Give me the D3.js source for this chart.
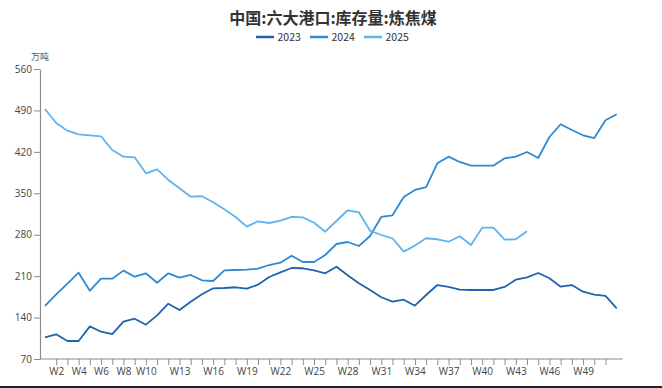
<!DOCTYPE html>
<html>
<head>
<meta charset="utf-8">
<script src="https://cdn.jsdelivr.net/npm/d3@7"></script>
<style>
  body { margin: 0; background: #fff; }
  svg { display: block; font-family: "Noto Sans CJK SC", "Noto Sans", sans-serif; }
</style>
</head>
<body>
<script>
// weeks W1..W52
var weeks = d3.range(1, 53).map(i => 'W' + i);
var shownLabels = ['W2','W4','W6','W8','W10','W13','W16','W19','W22','W25','W28','W31','W34','W37','W40','W43','W46','W49'];
var yTicks = [70, 140, 210, 280, 350, 420, 490, 560];

var v2023 = [106.7, 111.7, 100.4, 100.4, 125.2, 116.1, 112.2, 133.0, 138.1, 128.0,
             143.8, 163.4, 152.8, 166.8, 179.3, 189.5, 190.0, 191.2, 188.8, 195.6,
             208.6, 216.5, 223.8, 223.3, 219.9, 214.8, 226.0, 211.4, 197.9, 186.6,
             174.3, 166.8, 170.2, 160.1, 178.1, 195.0, 191.7, 187.1, 186.6, 186.6,
             186.6, 191.7, 204.0, 208.0, 215.3, 206.4, 192.2, 195.0, 183.7, 178.7,
             176.5, 155.7];
var v2024 = [159.6, 179.3, 197.3, 215.9, 185.4, 205.7, 205.7, 219.3, 209.1, 214.8,
             198.9, 214.8, 207.4, 212.0, 203.0, 201.8, 219.9, 220.4, 221.0, 222.6,
             228.8, 232.7, 244.6, 233.9, 233.9, 245.7, 264.3, 267.7, 260.9, 277.8,
             310.0, 312.8, 343.7, 355.6, 360.6, 400.7, 411.9, 402.9, 396.6, 396.6,
             396.6, 409.1, 411.9, 419.8, 409.6, 445.1, 466.6, 457.0, 448.0, 443.4,
             473.3, 483.5];
var v2025 = [492.4, 468.8, 455.8, 449.7, 448.0, 446.3, 423.2, 411.9, 410.8, 383.8,
             390.5, 372.5, 358.6, 344.2, 345.0, 334.8, 323.0, 310.0, 293.6, 302.7,
             299.8, 303.7, 310.0, 309.4, 300.3, 285.1, 303.2, 321.3, 317.9, 286.8,
             279.5, 274.0, 251.5, 261.6, 274.0, 272.3, 268.2, 277.3, 262.6, 291.9,
             291.9, 271.6, 272.3, 285.8];

var seriesNames = ['2023', '2024', '2025'];
var seriesColors = ['#1f63b0', '#2d8ad4', '#5db4ee'];
var seriesValues = [v2023, v2024, v2025];

var W = 662, H = 388;
var svg = d3.select('body').append('svg').attr('width', W).attr('height', H);

var x = d3.scalePoint().domain(weeks).range([45, 616.7]);
var y = d3.scaleLinear().domain([70, 560]).range([359, 69]);

// title
svg.append('text')
    .attr('x', 333).attr('y', 23.5)
    .attr('text-anchor', 'middle')
    .attr('font-size', 16).attr('font-weight', 'bold')
    .attr('fill', '#333')
    .text('中国:六大港口:库存量:炼焦煤');

// legend
var legend = svg.append('g');
var legX = [256, 310, 364];
seriesNames.forEach((name, i) => {
    var g = legend.append('g').attr('transform', `translate(${legX[i]},37)`);
    g.append('line').attr('x1', 0).attr('x2', 18).attr('y1', 0).attr('y2', 0)
        .attr('stroke', seriesColors[i]).attr('stroke-width', 2.5);
    g.append('text').attr('x', 21.5).attr('y', 3.8)
        .attr('font-size', 10.5).attr('fill', '#333').text(name);
});

// unit
svg.append('text').attr('x', 31).attr('y', 60)
    .attr('font-size', 9).attr('fill', '#555').text('万吨');

// y axis
var axisy = d3.axisLeft(y).tickValues(yTicks).tickSize(6).tickPadding(2).tickSizeOuter(0);
var gy = svg.append('g').attr('transform', 'translate(40,0)').call(axisy);
gy.select('.domain').attr('stroke', '#8c8c8c').attr('stroke-width', 1.2);
gy.selectAll('.tick line').attr('stroke', '#8c8c8c');
gy.selectAll('.tick text').attr('fill', '#444').attr('font-size', 10)
    .attr('font-family', '"Open Sans", "Noto Sans", sans-serif');

// x axis
var axisx = d3.axisBottom(x)
    .tickValues(weeks.slice(1, 51))
    .tickSize(6).tickPadding(3)
    .tickFormat(d => shownLabels.indexOf(d) >= 0 ? d : '');
var gx = svg.append('g').attr('transform', 'translate(0,359)').call(axisx);
gx.select('.domain').remove();
gx.append('line')
    .attr('x1', 40).attr('x2', x('W52') + 6)
    .attr('y1', 0).attr('y2', 0)
    .attr('stroke', '#8c8c8c').attr('stroke-width', 1.2);
gx.selectAll('.tick line').attr('stroke', '#8c8c8c');
gx.selectAll('.tick text').attr('fill', '#444').attr('font-size', 10)
    .attr('font-family', '"Open Sans", "Noto Sans", sans-serif');

// lines
var line = d3.line()
    .x((d, i) => x(weeks[i]))
    .y(d => y(d));

seriesValues.forEach((vals, i) => {
    svg.append('path')
        .datum(vals)
        .attr('fill', 'none')
        .attr('stroke', seriesColors[i])
        .attr('stroke-width', 1.8)
        .attr('stroke-linejoin', 'round')
        .attr('d', line);
});

// bottom frame line
svg.append('line')
    .attr('x1', 0).attr('x2', W).attr('y1', 387).attr('y2', 387)
    .attr('stroke', '#222').attr('stroke-width', 2);
</script>
</body>
</html>
